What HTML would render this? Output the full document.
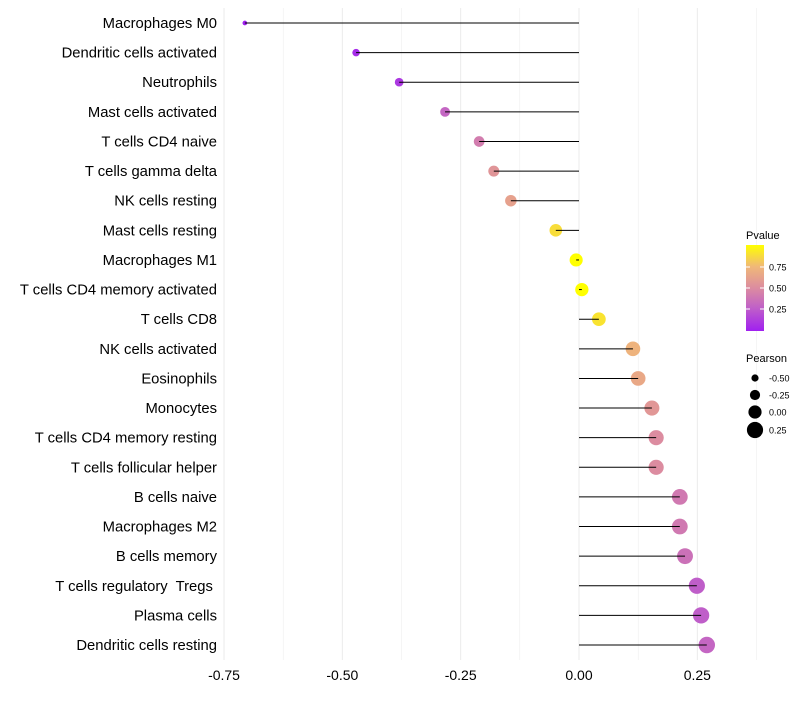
<!DOCTYPE html>
<html><head><meta charset="utf-8"><style>
body{margin:0;background:#fff;font-family:"Liberation Sans",sans-serif}
text{white-space:pre}
</style></head><body>
<svg id="c" width="800" height="700" xmlns="http://www.w3.org/2000/svg">
<defs><linearGradient id="pg" x1="0" y1="1" x2="0" y2="0">
<stop offset="0" stop-color="#A020F0"/><stop offset="0.27" stop-color="#C060C8"/><stop offset="0.5" stop-color="#DC8CA0"/><stop offset="0.75" stop-color="#F0B878"/><stop offset="1" stop-color="#FFFF00"/></linearGradient></defs>
</svg>
<script>
const categories=["Macrophages M0","Dendritic cells activated","Neutrophils","Mast cells activated","T cells CD4 naive","T cells gamma delta","NK cells resting","Mast cells resting","Macrophages M1","T cells CD4 memory activated","T cells CD8","NK cells activated","Eosinophils","Monocytes","T cells CD4 memory resting","T cells follicular helper","B cells naive","Macrophages M2","B cells memory","T cells regulatory  Tregs ","Plasma cells","Dendritic cells resting"];
const pearson=[-0.706,-0.471,-0.380,-0.283,-0.211,-0.180,-0.144,-0.049,-0.006,0.006,0.042,0.114,0.125,0.154,0.163,0.163,0.213,0.213,0.224,0.249,0.258,0.270];
const pvalues=[0.0,0.05,0.1,0.3,0.42,0.55,0.62,0.88,1.0,1.0,0.9,0.72,0.66,0.56,0.5,0.5,0.4,0.4,0.36,0.26,0.26,0.3];
const xTicks=[-0.75,-0.5,-0.25,0,0.25];
const xTickLabels=["-0.75","-0.50","-0.25","0.00","0.25"];
const NS="http://www.w3.org/2000/svg";
const svg=document.getElementById('c');
const xs=v=>579+v*473.3;
const ys=i=>23+i*29.62;
const rs=v=>Math.max(1.6,6.6+v*6);
function mk(t,a,p){const e=document.createElementNS(NS,t);for(const k in a)e.setAttribute(k,a[k]);(p||svg).appendChild(e);return e;}
const stops=[[0,[160,32,240]],[0.27,[192,96,200]],[0.5,[220,140,160]],[0.75,[240,184,120]],[1,[255,255,0]]];
function col(p){for(let i=1;i<stops.length;i++){if(p<=stops[i][0]){const a=stops[i-1],b=stops[i],t=(p-a[0])/(b[0]-a[0]);return 'rgb('+a[1].map((c,j)=>Math.round(c+(b[1][j]-c)*t)).join(',')+')';}}return 'rgb(255,255,0)';}
for(let v=-0.75;v<=0.375;v+=0.125){const g=mk('line',{x1:xs(v),x2:xs(v),y1:8,y2:660,stroke:'#ebebeb','stroke-width':Math.abs((v*4)%1)<1e-6?1:0.5});

}
xTicks.forEach((v,i)=>{const t=mk('text',{x:xs(v),y:680,'text-anchor':'middle','font-size':14,fill:'#000'});t.textContent=xTickLabels[i];

});
categories.forEach((c,i)=>{const y=ys(i);
const t=mk('text',{x:217,y:y+5,'text-anchor':'end','font-size':14.8,fill:'#000'});t.textContent=c;


const p=mk('circle',{cx:xs(pearson[i]),cy:y,r:rs(pearson[i]),fill:col(pvalues[i])});


const l=mk('line',{x1:xs(0),x2:xs(pearson[i]),y1:y,y2:y,stroke:'#000','stroke-width':1});

});
const lg=mk('g',{});


mk('text',{x:746,y:239,'font-size':11},lg).textContent='Pvalue';
mk('rect',{x:746,y:245,width:18,height:86,fill:'url(#pg)'},lg);
[[0.75,267],[0.5,288],[0.25,309]].forEach(([v,y])=>{mk('line',{x1:746,x2:750,y1:y,y2:y,stroke:'#fff'},lg);mk('line',{x1:760,x2:764,y1:y,y2:y,stroke:'#fff'},lg);mk('text',{x:769,y:y+3.5,'font-size':9},lg).textContent=v.toFixed(2);});
const sg=mk('g',{});


mk('text',{x:746,y:362,'font-size':11},sg).textContent='Pearson';
[[-0.5,378],[-0.25,395],[0,412],[0.25,430]].forEach(([v,y])=>{mk('circle',{cx:755,cy:y,r:rs(v),fill:'#000'},sg);mk('text',{x:769,y:y+3.5,'font-size':9},sg).textContent=v.toFixed(2);});
</script>
</body></html>
